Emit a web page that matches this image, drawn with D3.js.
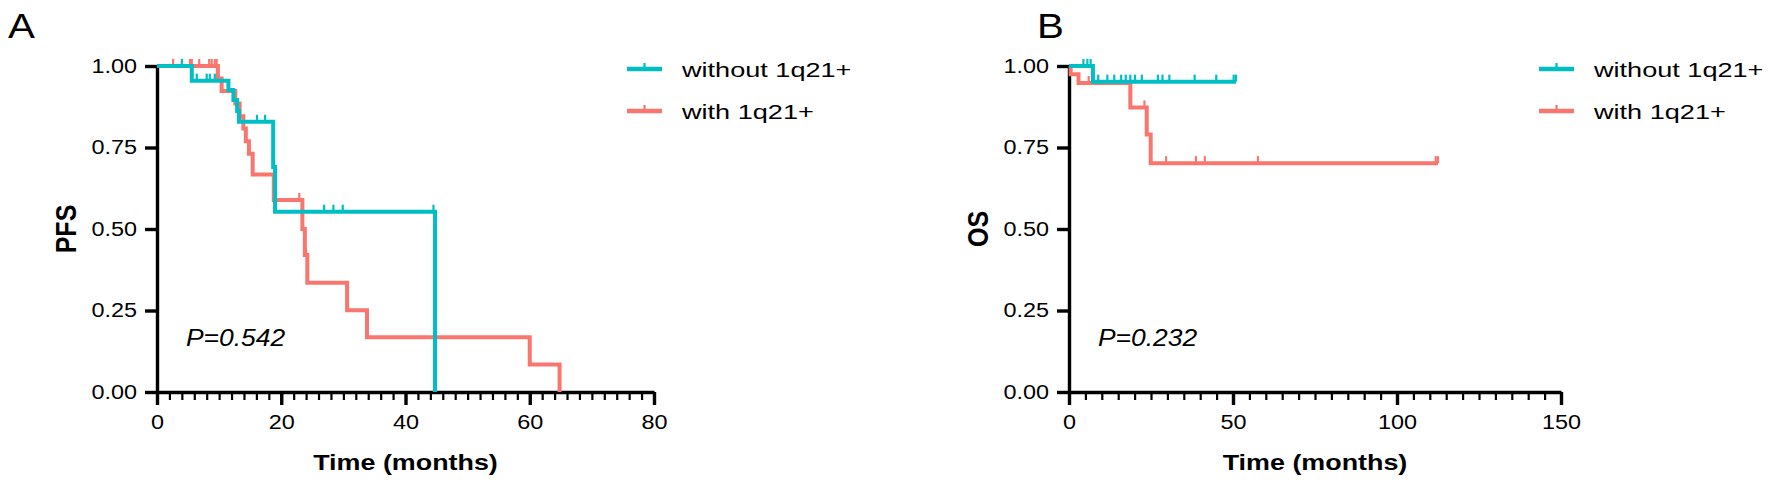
<!DOCTYPE html>
<html>
<head>
<meta charset="utf-8">
<script src="https://cdn.jsdelivr.net/npm/d3@7"></script>
<style>
  body { margin: 0; background: #fff; }
  text { font-family: "Liberation Sans", Arial, sans-serif; fill: #000; }
</style>
</head>
<body>
<script>
// values
var seriesNames = ["without 1q21+", "with 1q21+"];
var seriesColors = ["#00BFC4", "#F8766D"];
var panelLetters = ["A", "B"];
var yTitles = ["PFS", "OS"];
var pLabels = ["P=0.542", "P=0.232"];
var xTicksA = [0, 20, 40, 60, 80];
var xTicksB = [0, 50, 100, 150];
var yTicks = [0, 0.25, 0.5, 0.75, 1];

// PFS (panel A)
var pfsWithoutTime = [0, 5.6, 11.5, 12.3, 12.9, 13.2, 18.7, 19.0, 44.75];
var pfsWithoutSurv = [1, 0.955, 0.926, 0.896, 0.862, 0.829, 0.69, 0.553, 0];
var pfsWithoutCens = [4.0, 6.4, 8.0, 8.5, 9.3, 16.1, 17.4, 26.9, 28.4, 29.9, 44.5];

var pfsWithTime = [0, 9.8, 10.4, 12.6, 13.3, 13.9, 14.3, 14.8, 15.4, 18.8, 23.4, 23.8, 24.2, 30.6, 33.8, 60.0, 64.8];
var pfsWithSurv = [1, 0.962, 0.923, 0.885, 0.846, 0.808, 0.769, 0.731, 0.667, 0.589, 0.50, 0.42, 0.335, 0.251, 0.168, 0.084, 0];
var pfsWithCens = [2.6, 5.3, 5.6, 6.8, 8.4, 8.8, 9.3, 9.6, 22.9, 24.0];

// OS (panel B)
var osWithoutTime = [0, 7.3];
var osWithoutSurv = [1, 0.952];
var osWithoutEnd = 50.9;
var osWithoutCens = [4.4, 5.6, 6.6, 8.9, 11.7, 13.8, 15.9, 17.3, 18.7, 20.1, 22.2, 27.1, 28.5, 30.6, 38.3, 44.9, 50.2, 50.9];

var osWithTime = [0, 0.5, 2.9, 18.7, 23.7, 24.9];
var osWithSurv = [1, 0.975, 0.948, 0.873, 0.79, 0.702];
var osWithEnd = 112.5;
var osWithCens = [6.0, 23.0, 29.6, 38.7, 41.4, 57.6, 111.8, 112.5];

var W = 1772, H = 488;
var plotTop = 66, plotBottom = 392;

var svg = d3.select("body").append("svg")
  .attr("width", W)
  .attr("height", H);

// the source image is stretched sideways, so text gets widened to match
function widen(sel, k) {
  sel.each(function () {
    var w = this.getComputedTextLength();
    d3.select(this).attr("textLength", w * k).attr("lengthAdjust", "spacingAndGlyphs");
  });
}

function survAt(times, surv, t) {
  var i = d3.bisectRight(times, t) - 1;
  return surv[Math.max(i, 0)];
}

var panels = [
  {
    left: 157, right: 654, xMax: 80, ticks: xTicksA, minorStep: 2,
    letterX: 8, letter: panelLetters[0], yTitle: yTitles[0], p: pLabels[0],
    curves: [
      { t: pfsWithTime, s: pfsWithSurv, end: pfsWithTime[pfsWithTime.length - 1], c: pfsWithCens, col: seriesColors[1] },
      { t: pfsWithoutTime, s: pfsWithoutSurv, end: pfsWithoutTime[pfsWithoutTime.length - 1], c: pfsWithoutCens, col: seriesColors[0] }
    ]
  },
  {
    left: 1069, right: 1561, xMax: 150, ticks: xTicksB, minorStep: 5,
    letterX: 1037, letter: panelLetters[1], yTitle: yTitles[1], p: pLabels[1],
    curves: [
      { t: osWithTime, s: osWithSurv, end: osWithEnd, c: osWithCens, col: seriesColors[1] },
      { t: osWithoutTime, s: osWithoutSurv, end: osWithoutEnd, c: osWithoutCens, col: seriesColors[0] }
    ]
  }
];

panels.forEach(function (p) {
  var x = d3.scaleLinear().domain([0, p.xMax]).range([p.left, p.right]);
  var y = d3.scaleLinear().domain([0, 1]).range([plotBottom, plotTop]);

  // minor ticks
  svg.append("g")
    .attr("transform", "translate(0," + plotBottom + ")")
    .call(d3.axisBottom(x).tickValues(d3.range(0, p.xMax + 0.001, p.minorStep)).tickSize(8).tickFormat(""))
    .call(function (g) {
      g.select(".domain").remove();
      g.selectAll("line").attr("stroke", "#000").attr("stroke-width", 2.2);
    });

  var xa = svg.append("g")
    .attr("transform", "translate(0," + plotBottom + ")")
    .call(d3.axisBottom(x).tickValues(p.ticks).tickSize(13).tickSizeOuter(0).tickPadding(10));
  xa.select(".domain").attr("stroke", "#000").attr("stroke-width", 3.4);
  xa.selectAll("line").attr("stroke", "#000").attr("stroke-width", 3.4);
  xa.selectAll("text").attr("font-size", 19.5).attr("fill", "#000").call(widen, 1.2);

  var ya = svg.append("g")
    .attr("transform", "translate(" + p.left + ",0)")
    .call(d3.axisLeft(y).tickValues(yTicks).tickFormat(d3.format(".2f")).tickSize(12).tickSizeOuter(0).tickPadding(8));
  ya.select(".domain").attr("stroke", "#000").attr("stroke-width", 3.4);
  ya.selectAll("line").attr("stroke", "#000").attr("stroke-width", 3.4);
  ya.selectAll("text").attr("font-size", 19.5).attr("fill", "#000").call(widen, 1.2);

  // curves
  var line = d3.line()
    .x(function (d) { return x(d[0]); })
    .y(function (d) { return y(d[1]); })
    .curve(d3.curveStepAfter);

  p.curves.forEach(function (c) {
    var pts = c.t.map(function (t, i) { return [t, c.s[i]]; });
    pts.push([c.end, c.s[c.s.length - 1]]);
    svg.append("path")
      .datum(pts)
      .attr("fill", "none")
      .attr("stroke", c.col)
      .attr("stroke-width", 4)
      .attr("d", line);

    svg.append("g").selectAll("line")
      .data(c.c)
      .join("line")
      .attr("x1", function (d) { return x(d); })
      .attr("x2", function (d) { return x(d); })
      .attr("y1", function (d) { return y(survAt(c.t, c.s, d)); })
      .attr("y2", function (d) { return y(survAt(c.t, c.s, d)) - 7; })
      .attr("stroke", c.col)
      .attr("stroke-width", 2.2);
  });

  // titles
  svg.append("text")
    .attr("x", (p.left + p.right) / 2)
    .attr("y", 470)
    .attr("text-anchor", "middle")
    .attr("font-size", 21.5)
    .attr("font-weight", "bold")
    .text("Time (months)")
    .call(widen, 1.25);

  svg.append("text")
    .attr("transform", "translate(" + (p.left - 81) + "," + ((plotTop + plotBottom) / 2) + ") scale(1.2,1) rotate(-90)")
    .attr("text-anchor", "middle")
    .attr("font-size", 25)
    .attr("font-weight", "bold")
    .text(p.yTitle);

  svg.append("text")
    .attr("x", p.left + 29)
    .attr("y", 346)
    .attr("font-size", 24)
    .attr("font-style", "italic")
    .text(p.p)
    .call(widen, 1.1);

  svg.append("text")
    .attr("x", p.letterX)
    .attr("y", 38)
    .attr("font-size", 35)
    .text(p.letter)
    .call(widen, 1.15);

  // legend
  var lg = svg.append("g").attr("transform", "translate(" + (p.left + 470) + ",0)");
  [0, 1].forEach(function (i) {
    var ly = 69 + i * 42;
    lg.append("line")
      .attr("x1", 0).attr("x2", 35)
      .attr("y1", ly).attr("y2", ly)
      .attr("stroke", seriesColors[i]).attr("stroke-width", 4.5);
    lg.append("line")
      .attr("x1", 17.5).attr("x2", 17.5)
      .attr("y1", ly).attr("y2", ly - 6)
      .attr("stroke", seriesColors[i]).attr("stroke-width", 2.2);
    lg.append("text")
      .attr("x", 55)
      .attr("y", ly + 7.5)
      .attr("font-size", 21)
      .text(seriesNames[i])
      .call(widen, 1.29);
  });
});
</script>
</body>
</html>
